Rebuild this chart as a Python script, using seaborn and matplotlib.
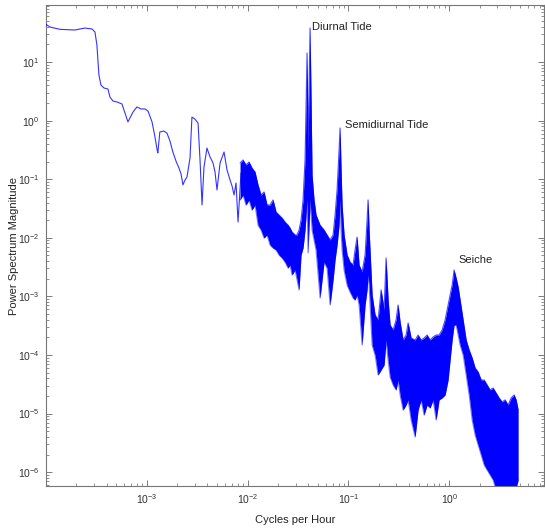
import numpy as np
import pandas as pd
import matplotlib
matplotlib.use("Agg")
import matplotlib.pyplot as plt
import seaborn as sns
from matplotlib.ticker import FixedLocator, LogLocator, NullFormatter

# Low-frequency part of the spectrum, drawn as a single trace
low_freq = [1.00e-4, 1.10e-4, 1.38e-4, 1.94e-4, 2.44e-4, 2.87e-4, 3.07e-4, 3.21e-4, 3.36e-4, 3.52e-4,
            3.77e-4, 4.13e-4, 4.32e-4, 4.63e-4, 5.07e-4, 5.69e-4, 6.23e-4, 6.52e-4, 6.83e-4, 7.31e-4,
            8.01e-4, 8.78e-4, 9.62e-4, 1.03e-3, 1.13e-3, 1.21e-3, 1.27e-3, 1.29e-3, 1.35e-3, 1.48e-3,
            1.59e-3, 1.70e-3, 1.82e-3, 1.95e-3, 2.09e-3, 2.19e-3, 2.29e-3, 2.40e-3, 2.51e-3, 2.69e-3,
            2.81e-3, 3.01e-3, 3.23e-3, 3.38e-3, 3.54e-3, 3.70e-3, 3.96e-3, 4.25e-3, 4.55e-3, 4.76e-3,
            4.98e-3, 5.34e-3, 5.85e-3, 6.26e-3, 6.71e-3, 7.02e-3, 7.35e-3, 7.69e-3, 8.05e-3, 8.62e-3]
low_power = [44.0, 39.5, 36.1, 35.2, 38.0, 36.6, 32.5, 19.5, 6.0, 4.05,
             3.6, 3.46, 2.53, 2.16, 2.08, 1.92, 1.20, 0.95, 1.11, 1.40,
             1.71, 1.58, 1.58, 1.46, 0.95, 0.52, 0.315, 0.28, 0.64, 0.665,
             0.61, 0.45, 0.29, 0.205, 0.155, 0.123, 0.080, 0.097, 0.109, 0.230,
             1.15, 1.06, 0.91, 0.213, 0.0363, 0.161, 0.340, 0.239, 0.189, 0.133,
             0.0655, 0.189, 0.291, 0.144, 0.0969, 0.0766, 0.0537, 0.0861, 0.0186, 0.128]

# Higher frequencies: upper and lower envelope of the dense periodogram
band_freq = [8.43e-3, 9.02e-3, 9.66e-3, 1.035e-2, 1.108e-2, 1.187e-2, 1.271e-2, 1.361e-2, 1.458e-2, 1.561e-2,
             1.672e-2, 1.791e-2, 1.918e-2, 2.054e-2, 2.200e-2, 2.355e-2, 2.522e-2, 2.640e-2, 2.764e-2, 2.960e-2,
             3.098e-2, 3.243e-2, 3.395e-2, 3.554e-2, 3.719e-2, 3.893e-2, 3.983e-2, 4.169e-2, 4.266e-2, 4.365e-2,
             4.567e-2, 4.781e-2, 5.238e-2, 5.741e-2, 6.146e-2, 6.585e-2, 7.053e-2, 7.382e-2, 7.727e-2, 8.086e-2,
             8.274e-2, 8.465e-2, 8.661e-2, 9.064e-2, 9.707e-2, 0.1040, 0.1113, 0.1165, 0.1220, 0.1277,
             0.1368, 0.1465, 0.1533, 0.1568, 0.1605, 0.1719, 0.1840, 0.1971, 0.2111, 0.2261,
             0.2366, 0.2477, 0.2593, 0.2777, 0.2973, 0.3112, 0.3258, 0.3489, 0.3736, 0.3911,
             0.4188, 0.4589, 0.4914, 0.5263, 0.5636, 0.6036, 0.6464, 0.6922, 0.7413, 0.7939,
             0.8502, 0.9106, 0.9752, 1.021, 1.069, 1.118, 1.171, 1.226, 1.283, 1.374,
             1.472, 1.576, 1.688, 1.807, 1.935, 2.073, 2.220, 2.377, 2.546, 2.726,
             2.919, 3.126, 3.348, 3.585, 3.840, 4.112, 4.403, 4.610, 4.826]
band_upper = [0.189, 0.213, 0.175, 0.197, 0.155, 0.133, 0.0796, 0.0538, 0.0605, 0.0363,
              0.0363, 0.0442, 0.0276, 0.0245, 0.0218, 0.0186, 0.0165, 0.0147, 0.0126, 0.0112,
              0.0112, 0.0136, 0.0201, 0.0442, 0.213, 14.3, 0.315, 38.0, 2.25, 0.118,
              0.0442, 0.0245, 0.0165, 0.0136, 0.0112, 0.00917, 0.0112, 0.0245, 0.0654, 0.315,
              0.748, 0.1435, 0.0363, 0.0112, 0.00509, 0.00386, 0.00343, 0.00619, 0.0103, 0.00343,
              0.00261, 0.00509, 0.0201, 0.0442, 0.0136, 0.00106, 0.000482, 0.000396, 0.00129, 0.000586,
              0.00452, 0.000868, 0.000325, 0.000267, 0.000396, 0.000713, 0.000366, 0.000180, 0.000219, 0.000352,
              0.000195, 0.000180, 0.000219, 0.000180, 0.000195, 0.000219, 0.000180, 0.000203, 0.000219, 0.000219,
              0.000267, 0.000396, 0.000713, 0.00106, 0.00156, 0.00282, 0.00206, 0.00145, 0.000868, 0.000396,
              0.000180, 0.000122, 8.89e-5, 6.0e-5, 5.13e-5, 3.74e-5, 3.74e-5, 3.08e-5, 2.53e-5, 2.73e-5,
              2.25e-5, 1.85e-5, 1.58e-5, 1.71e-5, 1.40e-5, 1.85e-5, 2.08e-5, 1.71e-5, 1.15e-5]
band_lower = [0.0442, 0.0538, 0.0363, 0.0442, 0.0298, 0.0363, 0.0165, 0.0136, 0.00992, 0.0112,
              0.00754, 0.00670, 0.00619, 0.00509, 0.00452, 0.00386, 0.00305, 0.00343, 0.00232, 0.00282,
              0.00191, 0.00129, 0.00509, 0.00670, 0.0136, 0.0442, 0.00550, 0.0442, 0.0245, 0.0136,
              0.00917, 0.00619, 0.000939, 0.00386, 0.00305, 0.000713, 0.00191, 0.00418, 0.00754, 0.0165,
              0.0442, 0.0136, 0.00619, 0.00282, 0.00156, 0.00119, 0.000939, 0.000868, 0.00106, 0.000713,
              0.000148, 0.000713, 0.00129, 0.00232, 0.00156, 0.000148, 0.0001, 4.56e-5, 5.55e-5, 6.75e-5,
              0.000180, 8.22e-5, 4.21e-5, 3.08e-5, 2.53e-5, 3.74e-5, 2.08e-5, 1.15e-5, 1.40e-5, 1.71e-5,
              7.78e-6, 3.99e-6, 1.15e-5, 1.71e-5, 9.46e-6, 1.40e-5, 1.25e-5, 1.71e-5, 7.78e-6, 1.71e-5,
              1.85e-5, 2.08e-5, 3.74e-5, 8.22e-5, 0.000180, 0.000325, 0.000325, 0.000219, 0.000148, 0.0001,
              4.56e-5, 2.08e-5, 7.78e-6, 4.31e-6, 2.91e-6, 1.97e-6, 1.33e-6, 1.09e-6, 8.96e-7, 7.36e-7,
              4.97e-7, 4.97e-7, 4.97e-7, 4.97e-7, 4.97e-7, 4.97e-7, 4.97e-7, 5.37e-7, 7.36e-7]

# Labelled spectral peaks
peak_labels = ["Diurnal Tide", "Semidiurnal Tide", "Seiche"]
peak_freq = [4.169e-2, 8.274e-2, 1.118]
peak_power = [38.0, 0.748, 2.82e-3]

# Decade ticks
x_ticks = [1e-3, 1e-2, 1e-1, 1e0]
y_ticks = [1e-6, 1e-5, 1e-4, 1e-3, 1e-2, 1e-1, 1e0, 1e1]

low = pd.DataFrame({"freq": low_freq, "power": low_power})
band = pd.DataFrame({"freq": band_freq, "upper": band_upper, "lower": band_lower})

sns.set_style("ticks")
plt.rcParams["font.family"] = ["Liberation Sans", "DejaVu Sans"]
plt.rcParams["axes.unicode_minus"] = False

fig = plt.figure(figsize=(5.45, 5.31), dpi=100)
ax = fig.add_axes([0.0853, 0.0847, 0.9128, 0.9059])

trace = "#0000ff"
ax.fill_between(band["freq"], band["lower"], band["upper"], color=trace, lw=0, zorder=2)
sns.lineplot(data=band, x="freq", y="upper", ax=ax, color=trace, lw=0.8, alpha=0.7,
             estimator=None, sort=False, zorder=3)
sns.lineplot(data=band, x="freq", y="lower", ax=ax, color=trace, lw=0.8, alpha=0.5,
             estimator=None, sort=False, zorder=3)
sns.lineplot(data=low, x="freq", y="power", ax=ax, color=trace, lw=0.8, alpha=0.8,
             estimator=None, sort=False, zorder=3)

ax.set_xscale("log")
ax.set_yscale("log")
ax.set_xlim(1.015e-4, 8.7)
ax.set_ylim(5.8e-7, 94)

offsets = [(1.5, 0.7), (3.6, 2.2), (2.9, 7.2)]
for lab, f, p, off in zip(peak_labels, peak_freq, peak_power, offsets):
    ax.annotate(lab, xy=(f, p), xytext=off, textcoords="offset points",
                ha="left", va="center", fontsize=8, color="#222222")

ax.set_xlabel("Cycles per Hour", fontsize=8, color="#222222")
ax.set_ylabel("Power Spectrum Magnitude", fontsize=8, color="#222222")
ax.xaxis.set_label_coords(0.5, -0.060)
ax.yaxis.set_label_coords(-0.0553, 0.5)

ax.xaxis.set_major_locator(FixedLocator(x_ticks))
ax.yaxis.set_major_locator(FixedLocator(y_ticks))
for axis in (ax.xaxis, ax.yaxis):
    axis.set_minor_locator(LogLocator(base=10, subs=np.arange(2, 10), numticks=20))
    axis.set_minor_formatter(NullFormatter())

ax.tick_params(which="both", direction="in", top=True, right=True,
               color="#666666", labelcolor="#333333", labelsize=7.5)
ax.tick_params(which="major", length=4.5, width=0.6)
ax.tick_params(which="minor", length=2.2, width=0.5)
ax.tick_params(axis="y", pad=5)
ax.tick_params(axis="x", pad=4.5)
for sp in ax.spines.values():
    sp.set_visible(True)
    sp.set_color("#777777")
    sp.set_linewidth(0.8)

fig.savefig("out.png", dpi=100)
